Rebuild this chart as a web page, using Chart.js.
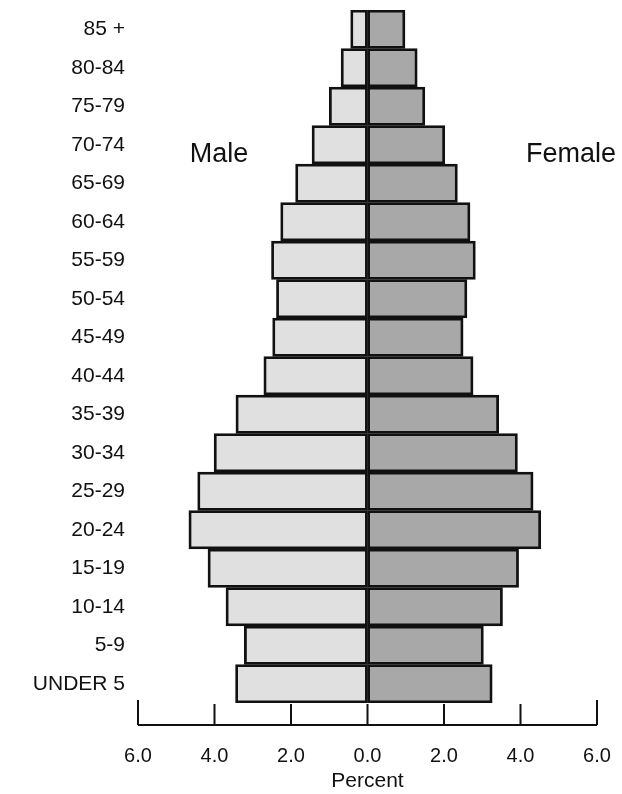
<!DOCTYPE html>
<html>
<head>
<meta charset="utf-8">
<script src="https://cdn.jsdelivr.net/npm/chart.js@4.4.0/dist/chart.umd.min.js"></script>
<style>
  html, body { margin: 0; padding: 0; background: #fff; }
  #wrap { width: 622px; height: 794px; position: relative; }
</style>
</head>
<body>
<div id="wrap"><canvas id="pyramid"></canvas></div>
<script>
// age groups, oldest at the top
const ageGroups = ['85 +', '80-84', '75-79', '70-74', '65-69', '60-64', '55-59', '50-54', '45-49',
  '40-44', '35-39', '30-34', '25-29', '20-24', '15-19', '10-14', '5-9', 'UNDER 5'];

// percent of population
const malePct = [0.44, 0.69, 1.0, 1.45, 1.88, 2.27, 2.51, 2.38, 2.48, 2.71, 3.44, 4.01, 4.44, 4.67, 4.17, 3.70, 3.22, 3.45];
const femalePct = [0.98, 1.30, 1.50, 2.02, 2.35, 2.68, 2.82, 2.60, 2.50, 2.76, 3.43, 3.92, 4.33, 4.53, 3.95, 3.53, 3.03, 3.26];

const xTicks = [-6, -4, -2, 0, 2, 4, 6];

const FONT = 'Liberation Sans, Arial, Helvetica, sans-serif';

// axis line with ticks pointing up, plus the Male / Female labels
const axisPlugin = {
  id: 'axisPlugin',
  afterDraw(chart) {
    const ctx = chart.ctx;
    const x = chart.scales.x;
    const y = chart.scales.y;
    const lineY = x.top + 22;
    ctx.save();
    ctx.strokeStyle = '#111';
    ctx.lineWidth = 2;
    ctx.beginPath();
    ctx.moveTo(x.getPixelForValue(-6), lineY);
    ctx.lineTo(x.getPixelForValue(6), lineY);
    xTicks.forEach(v => {
      const px = x.getPixelForValue(v);
      const len = Math.abs(v) === 6 ? 25 : 21;
      ctx.moveTo(px, lineY);
      ctx.lineTo(px, lineY - len);
    });
    ctx.stroke();

    ctx.fillStyle = '#111';
    ctx.font = '27px ' + FONT;
    ctx.textAlign = 'center';
    ctx.textBaseline = 'alphabetic';
    const rowY = y.getPixelForValue(3) + 17;
    ctx.fillText('Male', x.getPixelForValue(-3.88), rowY);
    ctx.fillText('Female', x.getPixelForValue(5.32), rowY);
    ctx.restore();
  }
};

const ctx = document.getElementById('pyramid').getContext('2d');
new Chart(ctx, {
  type: 'bar',
  data: {
    labels: ageGroups,
    datasets: [
      {
        label: 'Male',
        data: malePct.map(v => -v),
        backgroundColor: '#e0e0e0',
        borderColor: '#111',
        borderWidth: 2.8,
        borderSkipped: false
      },
      {
        label: 'Female',
        data: femalePct,
        backgroundColor: '#a8a8a8',
        borderColor: '#111',
        borderWidth: 2.8,
        borderSkipped: false
      }
    ]
  },
  options: {
    indexAxis: 'y',
    responsive: true,
    maintainAspectRatio: false,
    animation: false,
    barPercentage: 1,
    categoryPercentage: 1,
    layout: { padding: { top: 10, right: 25, left: 0, bottom: 0 } },
    plugins: {
      legend: { display: false },
      tooltip: { enabled: false }
    },
    scales: {
      x: {
        min: -6,
        max: 6,
        afterFit(s) { s.height = 91; s.paddingLeft = 0; s.paddingRight = 0; },
        afterBuildTicks(s) { s.ticks = xTicks.map(v => ({ value: v })); },
        grid: { display: false, drawTicks: false },
        border: { display: false },
        ticks: {
          padding: 41,
          color: '#111',
          font: { family: FONT, size: 20 },
          callback: v => Math.abs(v).toFixed(1)
        },
        title: {
          display: true,
          text: 'Percent',
          color: '#111',
          font: { family: FONT, size: 21 },
          padding: { top: 0, bottom: 0 }
        }
      },
      y: {
        stacked: true,
        afterFit(s) { s.width = 138; s.paddingTop = 0; s.paddingBottom = 0; },
        grid: { display: false, drawTicks: false },
        border: { display: false },
        ticks: {
          padding: 13,
          color: '#111',
          font: { family: FONT, size: 21 }
        }
      }
    }
  },
  plugins: [axisPlugin]
});
</script>
</body>
</html>
